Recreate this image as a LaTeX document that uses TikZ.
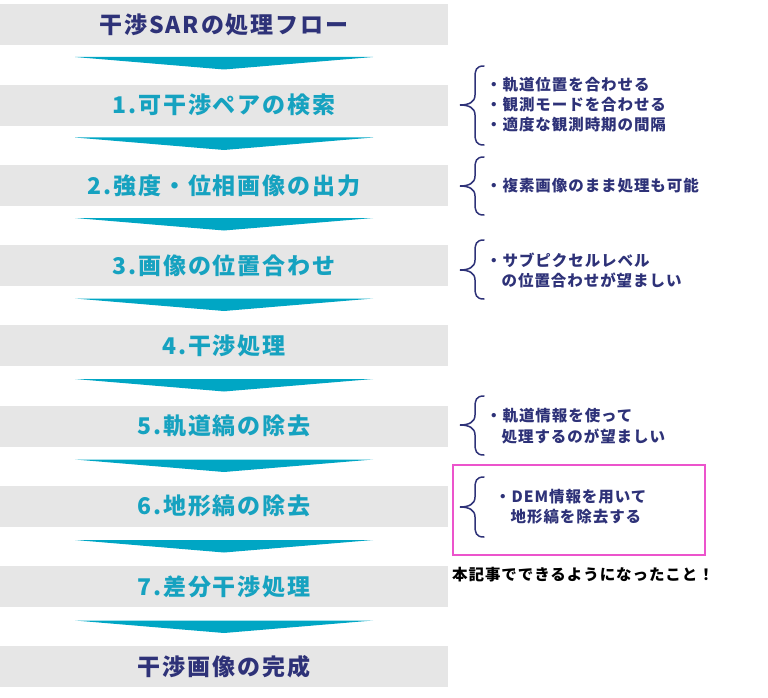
\documentclass[tikz,border=0pt]{standalone}
\usepackage{fontspec}
\newfontfamily\jpb{Noto Sans CJK JP}[LetterSpace=8]
\newfontfamily\jps{Noto Sans CJK JP}[LetterSpace=6]
\definecolor{navy}{RGB}{46,50,120}
\definecolor{tealtxt}{RGB}{22,162,192}
\definecolor{tealarr}{RGB}{0,166,196}
\definecolor{boxgray}{RGB}{230,230,230}
\definecolor{pinkline}{RGB}{236,84,204}
\tikzset{
  stepbox/.style={rectangle, fill=boxgray, minimum width=448pt, minimum height=41pt, inner sep=0pt, font=\jpb\bfseries\fontsize{23}{23}\selectfont},
  flowarrow/.style={fill=tealarr, draw=none},
  bracepath/.style={draw=navy, line width=1.5pt, line cap=round},
  sidetext/.style={anchor=west, inner sep=0pt, text=navy, font=\jps\bfseries\fontsize{15.5}{15.5}\selectfont},
}
\newcommand{\mybrace}[3]{% top, bottom, mid (y in px)
  \draw[bracepath] (484,#1) .. controls (476,#1) and (475,#1+4) .. (475,#1+12)
    -- (475,#3-10) .. controls (475,#3-3) and (469,#3) .. (460,#3)
    .. controls (469,#3) and (475,#3+3) .. (475,#3+10)
    -- (475,#2-12) .. controls (475,#2-4) and (476,#2) .. (484,#2);
}
\begin{document}
\begin{tikzpicture}[x=1pt, y=-1pt]
\useasboundingbox (0,0) rectangle (768,698);
% boxes
\node[stepbox, text=navy] (b0) at (224,25) {干渉SARの処理フロー};
\node[stepbox, text=tealtxt] (b1) at (224,105.2) {1.可干渉ペアの検索};
\node[stepbox, text=tealtxt] (b2) at (224,185.4) {2.強度・位相画像の出力};
\node[stepbox, text=tealtxt] (b3) at (224,265.6) {3.画像の位置合わせ};
\node[stepbox, text=tealtxt] (b4) at (224,345.8) {4.干渉処理};
\node[stepbox, text=tealtxt] (b5) at (224,426) {5.軌道縞の除去};
\node[stepbox, text=tealtxt] (b6) at (224,506.2) {6.地形縞の除去};
\node[stepbox, text=tealtxt] (b7) at (224,586.4) {7.差分干渉処理};
\node[stepbox, text=navy] (b8) at (224,666.6) {干渉画像の完成};
% arrows
\foreach \i in {0,...,7}{
  \pgfmathsetmacro{\yt}{57+80.5*\i}
  \fill[flowarrow] (75,\yt) -- (373,\yt) -- (224,\yt+12.5) -- cycle;
}
% braces and notes
\mybrace{66}{145}{105}
\node[sidetext] (n1a) at (486,85) {・軌道位置を合わせる};
\node[sidetext] (n1b) at (486,105) {・観測モードを合わせる};
\node[sidetext] (n1c) at (486,125) {・適度な観測時期の間隔};
\mybrace{157}{215}{186}
\node[sidetext] (n2) at (486,186) {・複素画像のまま処理も可能};
\mybrace{240}{299}{270}
\node[sidetext] (n3a) at (486,260) {・サブピクセルレベル};
\node[sidetext] (n3b) at (486,280) {\phantom{・}の位置合わせが望ましい};
\mybrace{396}{455}{425}
\node[sidetext] (n5a) at (486,416) {・軌道情報を使って};
\node[sidetext] (n5b) at (486,436) {\phantom{・}処理するのが望ましい};
\draw[pinkline, line width=1.2pt] (453,465) rectangle (705,555);
\mybrace{477}{537}{507}
\node[sidetext] (n6a) at (495,497) {・DEM情報を用いて};
\node[sidetext] (n6b) at (495,517) {\phantom{・}地形縞を除去する};
\node[anchor=west, inner sep=0pt, text=black, font=\jps\bfseries\fontsize{15.5}{15.5}\selectfont] (cap) at (452,575) {本記事でできるようになったこと！};
\end{tikzpicture}
\end{document}
